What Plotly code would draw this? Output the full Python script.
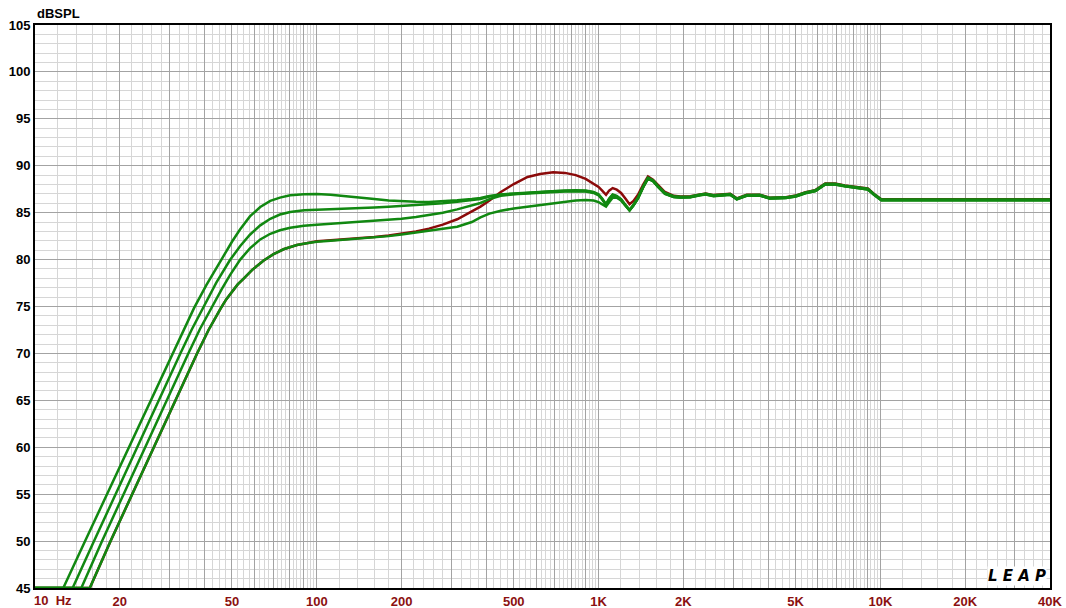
import numpy as np
import plotly.graph_objects as go

# ---- low-frequency roll-off of each response (Hz, dB SPL); the trace sits on the 45 dB floor below its cut-in
freq_a_lo = [10, 12.6, 15.06, 18.0, 21.51, 25.71, 30.73, 33.6, 36.7, 40.6, 44, 46.5, 50, 53.4, 57.9, 63, 68.4, 74, 80.5, 90]
spl_a_lo = [45, 45, 50, 55, 60, 65, 70, 72.45, 74.85, 77.3, 79.1, 80.35, 81.9, 83.2, 84.6, 85.6, 86.25, 86.6, 86.85, 86.97]

freq_b_lo = [10, 13.6, 16.2, 19.3, 23.0, 27.45, 32.8, 36, 39.6, 44, 49.2, 53.5, 57.9, 63, 68.4, 74, 80.5, 90]
spl_b_lo = [45, 45, 50, 55, 60, 65, 70, 72.55, 75.0, 77.55, 79.95, 81.45, 82.65, 83.65, 84.35, 84.8, 85.08, 85.25]

freq_c_lo = [10, 14.6, 17.3, 20.6, 24.6, 29.35, 35.0, 38.5, 42.4, 46, 49.2, 53.5, 57.9, 63, 68.4, 74, 80.5, 90]
spl_c_lo = [45, 45, 50, 55, 60, 65, 70, 72.6, 74.95, 76.85, 78.35, 80.0, 81.2, 82.15, 82.75, 83.12, 83.4, 83.6]

freq_d_lo = [10, 15.65, 18.55, 22.1, 26.4, 31.5, 37.6, 41.3, 43.5, 45.5, 47.7, 50, 52.4, 54.9, 59, 64.8, 70, 76.2, 85, 92]
spl_d_lo = [45, 45, 50, 55, 60, 65, 70, 72.5, 73.75, 74.75, 75.75, 76.6, 77.35, 77.95, 78.9, 79.9, 80.55, 81.1, 81.55, 81.75]

# ---- shared frequency points from 100 Hz upward
freq_hi = [100, 112, 125, 140, 160, 180, 200, 225, 250, 280, 315, 355, 381, 410, 450,
           500, 560, 620, 690, 760, 830, 900, 960, 1000, 1030, 1063, 1090, 1122, 1160, 1202,
           1245, 1288, 1330, 1380, 1440, 1497, 1560, 1623, 1720, 1848, 1950, 2116, 2300, 2400,
           2560, 2750, 2932, 3094, 3357, 3732, 4045, 4619, 5006, 5425, 5879, 6372, 6905, 7484,
           8329, 9026, 9518, 10080, 40000]

spl_a_hi = [87.0, 86.92, 86.8, 86.65, 86.45, 86.3, 86.22, 86.16, 86.15, 86.22, 86.32, 86.45, 86.56, 86.78, 86.95,
            87.05, 87.15, 87.25, 87.32, 87.36, 87.38, 87.35, 87.2, 86.95, 86.5, 85.9, 86.5, 86.95, 86.8, 86.45,
            85.85, 85.3, 85.85, 86.6, 87.8, 88.72, 88.45, 87.85, 87.1, 86.75, 86.7, 86.72, 86.95, 87.02,
            86.85, 86.92, 86.98, 86.5, 86.88, 86.9, 86.58, 86.63, 86.8, 87.15, 87.38, 88.08, 88.08, 87.88,
            87.72, 87.55, 86.95, 86.4, 86.4]

spl_b_hi = [85.3, 85.35, 85.42, 85.48, 85.56, 85.64, 85.72, 85.8, 85.88, 86.0, 86.15, 86.32, 86.45, 86.72, 86.9,
            87.0, 87.1, 87.2, 87.27, 87.3, 87.32, 87.3, 87.15, 86.9, 86.45, 85.85, 86.45, 86.9, 86.75, 86.4,
            85.8, 85.25, 85.8, 86.55, 87.75, 88.66, 88.4, 87.8, 87.05, 86.7, 86.65, 86.68, 86.9, 86.98,
            86.8, 86.88, 86.94, 86.46, 86.84, 86.86, 86.54, 86.59, 86.76, 87.11, 87.34, 88.04, 88.04, 87.84,
            87.68, 87.51, 86.91, 86.36, 86.36]

spl_c_hi = [83.7, 83.8, 83.88, 83.97, 84.1, 84.22, 84.35, 84.55, 84.75, 85.0, 85.35, 85.75, 86.03, 86.45, 86.8,
            86.95, 87.05, 87.15, 87.22, 87.25, 87.27, 87.25, 87.1, 86.85, 86.4, 85.8, 86.4, 86.85, 86.7, 86.36,
            85.76, 85.22, 85.76, 86.51, 87.71, 88.62, 88.36, 87.76, 87.01, 86.66, 86.61, 86.64, 86.86, 86.94,
            86.76, 86.84, 86.9, 86.42, 86.8, 86.82, 86.5, 86.55, 86.72, 87.07, 87.3, 88.0, 88.0, 87.8,
            87.64, 87.47, 86.87, 86.32, 86.32]

spl_d_hi = [81.9, 82.0, 82.1, 82.2, 82.35, 82.5, 82.68, 82.88, 83.05, 83.22, 83.5, 84.0, 84.5, 84.9, 85.2,
            85.45, 85.65, 85.85, 86.05, 86.2, 86.3, 86.36, 86.3, 86.12, 85.9, 85.65, 86.1, 86.6, 86.6, 86.3,
            85.78, 85.25, 85.78, 86.52, 87.72, 88.62, 88.37, 87.77, 87.02, 86.67, 86.62, 86.65, 86.87, 86.95,
            86.77, 86.85, 86.91, 86.43, 86.81, 86.83, 86.51, 86.56, 86.73, 87.08, 87.31, 88.01, 88.01, 87.81,
            87.65, 87.48, 86.88, 86.33, 86.33]

spl_red_hi = [81.95, 82.05, 82.15, 82.25, 82.4, 82.56, 82.75, 83.0, 83.3, 83.72, 84.3, 85.1, 85.65, 86.3, 87.2,
              88.05, 88.8, 89.12, 89.3, 89.24, 89.0, 88.6, 88.1, 87.75, 87.35, 86.9, 87.35, 87.62, 87.45, 87.1,
              86.5, 85.9, 86.25, 86.9, 88.0, 88.85, 88.5, 87.95, 87.2, 86.8, 86.72, 86.74, 86.97, 87.04,
              86.87, 86.94, 87.0, 86.52, 86.9, 86.92, 86.6, 86.65, 86.82, 87.17, 87.4, 88.1, 88.1, 87.9,
              87.74, 87.57, 86.97, 86.42, 86.42]

# ---- axis labels
y_ticks = [45, 50, 55, 60, 65, 70, 75, 80, 85, 90, 95, 100, 105]
x_label_vals = [20, 50, 100, 200, 500, 1000, 2000, 5000, 10000, 20000, 40000]
x_label_text = ["20", "50", "100", "200", "500", "1K", "2K", "5K", "10K", "20K", "40K"]

GREEN = "#118811"
RED = "#8b0a0a"
LABEL_RED = "#8b1010"
FONT = "Liberation Sans, Arial, sans-serif"

# grid: every integer multiple per decade (darker), finer subdivisions (lighter)
major_x = []
minor_x = []
for dec in (10, 100, 1000, 10000):
    for m in range(1, 10):
        v = m * dec
        if v <= 40000:
            major_x.append(v)
    for m in (1.2, 1.4, 1.6, 1.8, 2.2, 2.4, 2.6, 2.8, 3.25, 3.5, 3.75, 4.25, 4.5, 4.75,
              5.25, 5.5, 5.75, 6.25, 6.5, 6.75, 7.25, 7.5, 7.75, 8.25, 8.5, 8.75, 9.25, 9.5, 9.75):
        v = m * dec
        if v < 40000:
            minor_x.append(v)
x_text = ["<b>%s</b>" % x_label_text[x_label_vals.index(v)] if v in x_label_vals else "" for v in major_x]
y_text = ["<b>%d</b>" % v for v in y_ticks]

fig = go.Figure()


def add_curve(f_lo, s_lo, s_hi, color):
    fig.add_trace(go.Scatter(
        x=list(f_lo) + freq_hi, y=list(s_lo) + s_hi, mode="lines",
        line=dict(color=color, width=2.5),
        hoverinfo="skip", showlegend=False))


add_curve(freq_d_lo, spl_d_lo, spl_red_hi, RED)
add_curve(freq_d_lo, spl_d_lo, spl_d_hi, GREEN)
add_curve(freq_c_lo, spl_c_lo, spl_c_hi, GREEN)
add_curve(freq_b_lo, spl_b_lo, spl_b_hi, GREEN)
add_curve(freq_a_lo, spl_a_lo, spl_a_hi, GREEN)

fig.update_xaxes(
    type="log", range=[1, np.log10(40000)], automargin=False,
    tickmode="array", tickvals=major_x, ticktext=x_text,
    tickfont=dict(family=FONT, size=13, color=LABEL_RED), ticks="",
    showgrid=True, gridcolor="#a3a3a3", gridwidth=1,
    minor=dict(tickmode="array", tickvals=minor_x, showgrid=True, gridcolor="#d6d6d6", gridwidth=1, ticks=""),
    showline=True, linecolor="black", linewidth=2, mirror=True,
    zeroline=False, layer="below traces",
)
fig.update_yaxes(
    range=[45, 105], automargin=False,
    tickmode="array", tickvals=y_ticks, ticktext=y_text,
    tickfont=dict(family=FONT, size=13, color="black"), ticks="",
    showgrid=True, gridcolor="#a3a3a3", gridwidth=1,
    minor=dict(dtick=1, showgrid=True, gridcolor="#d6d6d6", gridwidth=1, ticks=""),
    showline=True, linecolor="black", linewidth=2, mirror=True,
    zeroline=False, layer="below traces",
)

fig.add_annotation(text="<b>dBSPL</b>", xref="paper", yref="paper", x=0, y=1,
                   xanchor="left", yanchor="bottom", xshift=0, yshift=2, showarrow=False,
                   font=dict(family=FONT, size=13, color="black"))
fig.add_annotation(text="<b>10&nbsp;&nbsp;Hz</b>", xref="paper", yref="paper", x=0, y=0,
                   xanchor="left", yanchor="top", xshift=-3, yshift=-3, showarrow=False,
                   font=dict(family=FONT, size=13, color=LABEL_RED))
fig.add_annotation(text="<b><i>L E A P</i></b>", xref="paper", yref="paper", x=1, y=0,
                   xanchor="right", yanchor="bottom", xshift=-3, yshift=2, showarrow=False,
                   bgcolor="white", borderpad=0,
                   font=dict(family="DejaVu Sans, sans-serif", size=15, color="black"))

fig.update_layout(
    width=1066, height=608,
    margin=dict(l=35, r=16, t=25, b=20),
    paper_bgcolor="white", plot_bgcolor="white",
)

fig.write_html("out.html")
